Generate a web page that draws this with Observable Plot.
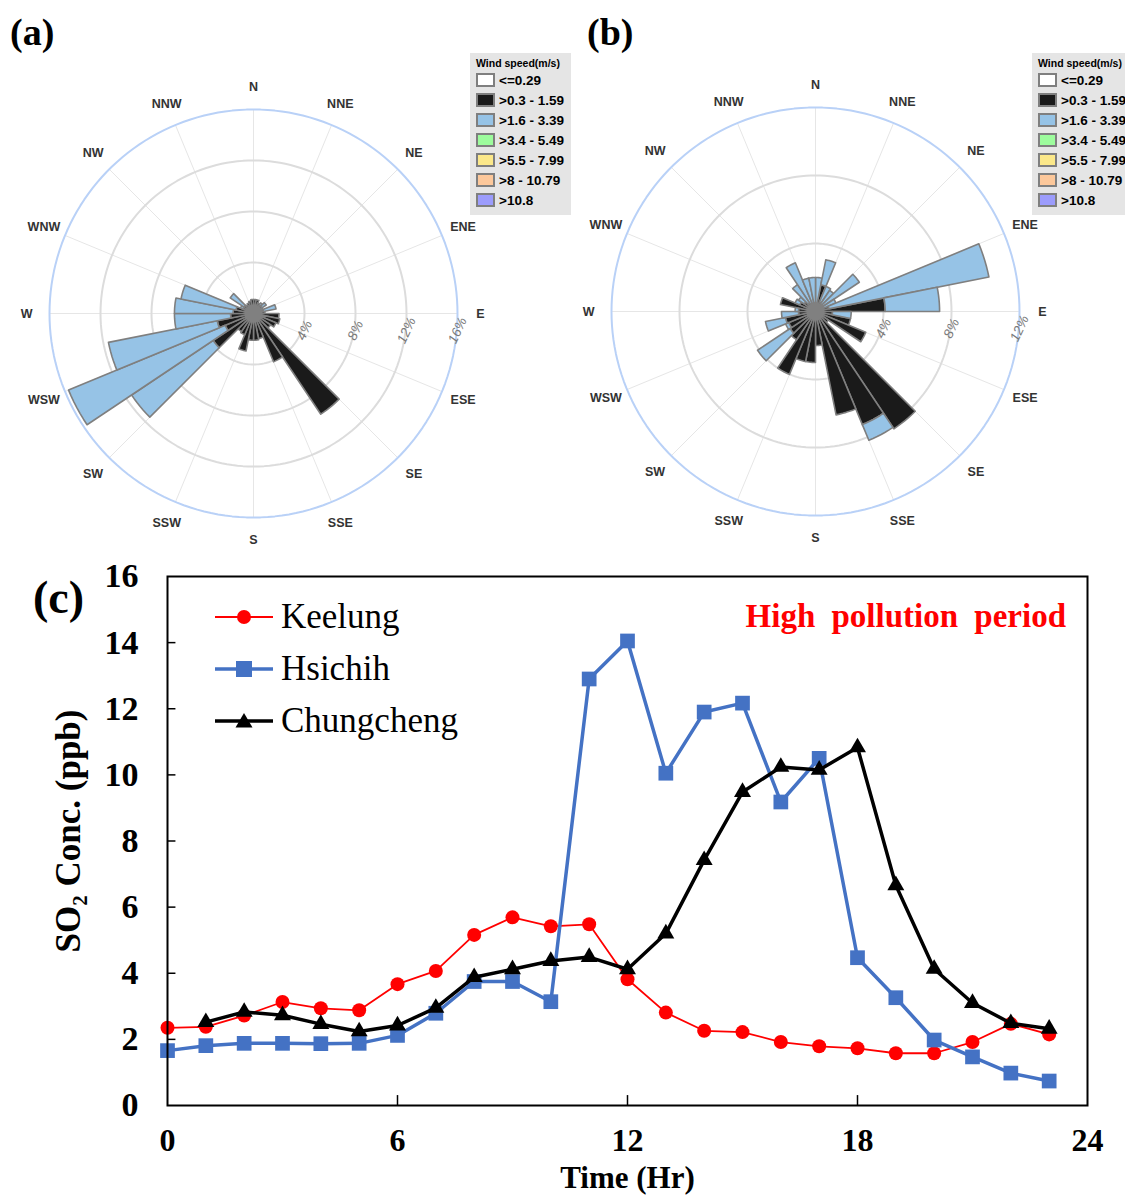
<!DOCTYPE html>
<html><head><meta charset="utf-8">
<script src="https://cdn.jsdelivr.net/npm/d3@7"></script>
<script src="https://cdn.jsdelivr.net/npm/@observablehq/plot@0.6"></script>
<style>
body{margin:0;background:#fff;width:1125px;height:1196px;overflow:hidden;position:relative;font-family:"Liberation Sans",Arial,sans-serif}
.abs{position:absolute}
.panel{font:bold 38px "Liberation Serif","Times New Roman",serif;line-height:40px}
.wsleg{background:#e5e5e5;padding:3px 0 0 6px;box-sizing:border-box;font-family:"Liberation Sans",Arial,sans-serif;color:#000;white-space:nowrap}
.wsleg .t{font-weight:bold;font-size:10.5px;height:14px;line-height:14px;margin-bottom:0px}
.wsleg .r{display:flex;align-items:center;height:20px}
.wsleg .sw{width:15px;height:10px;border:2px solid #7f7f7f;margin-right:4px}
.wsleg .l{font-weight:bold;font-size:13.5px}
.lg{display:flex;align-items:center;height:40px;font:35px "Liberation Serif","Times New Roman",serif}
</style></head><body>
<script>
// ---------------- data ----------------
const directions = ["N","NNE","NE","ENE","E","ESE","SE","SSE","S","SSW","SW","WSW","W","WNW","NW","NNW"];
const speedBands = ["<=0.29", ">0.3 - 1.59", ">1.6 - 3.39", ">3.4 - 5.49", ">5.5 - 7.99", ">8 - 10.79", ">10.8"];
// 32 direction sectors (11.25 deg each, starting at north, clockwise), frequency in %
const roseA_slow = [1.1,1.1,0.9,0.8,0.8,0.6,0.8,0.9,2.0,2.1,1.9,1.6,9.5,4.1,2.0,2.1,2.1,3.0,1.8,1.7,3.8,2.4,2.9,1.8,1.6,1.4,0.9,0.9,0.8,0.9,1.0,1.1]; // >0.3 - 1.59
const roseA_mid  = [0,0,0,0.2,0.4,0.2,1.0,0,0,0,0,0,0,0,0,0,0,0,0,0,7.7,13.3,8.7,4.4,4.6,4.4,0.2,1.3,0,0,0,0];        // >1.6 - 3.39
const roseB_slow = [0.5,1.6,0.6,0.5,0.5,0.5,0.8,4.1,1.0,2.1,3.2,0.9,8.3,7.2,6.2,2.0,3.0,3.0,4.0,2.0,1.8,1.7,1.8,1.0,1.0,2.1,1.0,0.8,0.6,0.5,0.5,0.5];
const roseB_mid  = [1.5,1.5,1.0,1.0,2.6,0.8,9.6,3.2,1.1,0,0,0,0,1.0,0,0,0,0,0,0,2.3,0.2,1.2,1.0,0.2,0,0.3,0.4,1.3,2.6,1.5,1.5];
const roseA_rings = [4, 8, 12, 16];
const roseB_rings = [4, 8, 12];

const hours = [0,1,2,3,4,5,6,7,8,9,10,11,12,13,14,15,16,17,18,19,20,21,22,23];
const keelung    = [2.35,2.38,2.72,3.13,2.94,2.88,3.67,4.07,5.16,5.69,5.42,5.48,3.82,2.81,2.26,2.22,1.92,1.79,1.73,1.58,1.58,1.92,2.47,2.15];
const hsichih    = [1.66,1.81,1.88,1.88,1.87,1.88,2.12,2.79,3.75,3.75,3.14,12.9,14.05,10.05,11.9,12.17,9.18,10.5,4.47,3.26,1.98,1.47,0.98,0.74];
const chungcheng = [null,2.52,2.83,2.73,2.46,2.24,2.42,2.95,3.88,4.12,4.37,4.49,4.12,5.2,7.42,9.48,10.24,10.15,10.83,6.66,4.13,3.1,2.49,2.32];
const xTicks = [0, 6, 12, 18, 24];
const yTicks = [0, 2, 4, 6, 8, 10, 12, 14, 16];
const seriesNames = ["Keelung", "Hsichih", "Chungcheng"];

// ---------------- styles ----------------
const bandColors = ["#ffffff", "#1a1a1a", "#96c3e6", "#9dfc9d", "#fbe88a", "#fcc89b", "#9c9cfc"];
const rad = Math.PI / 180;

function windRose(slow, mid, rings, W, H, cx, cy, pxPerPct) {
  const n = slow.length, step = 360 / n;
  const outer = rings[rings.length - 1];
  const arc = (r, a0, a1, m) => d3.range(m + 1).map(i => a0 + (a1 - a0) * i / m)
      .map(a => ({x: r * Math.sin(a * rad), y: r * Math.cos(a * rad)}));
  const blackPolys = [], bluePolys = [];
  slow.forEach((s, i) => {
    const a0 = i * step, a1 = (i + 1) * step;
    if (s > 0) {
      [{x: 0, y: 0}, ...arc(s, a0, a1, 6)].forEach(p => blackPolys.push({id: i, ...p}));
    }
    if (mid[i] > 0) {
      const t = s + mid[i];
      [...arc(t, a0, a1, 6), ...arc(s, a1, a0, 6)].forEach(p => bluePolys.push({id: i, ...p}));
    }
  });
  const circlePts = rings.flatMap(r => arc(r, 0, 360, 180).map(p => ({ring: r, ...p})));
  const spokes = directions.map((d, i) => ({a: i * 22.5}));
  const labR = outer * 1.112;
  return Plot.plot({
    width: W, height: H, margin: 0,
    x: {domain: [-cx / pxPerPct, (W - cx) / pxPerPct], axis: null},
    y: {domain: [-(H - cy) / pxPerPct, cy / pxPerPct], axis: null},
    style: {background: "transparent", overflow: "visible"},
    marks: [
      Plot.link(spokes, {x1: 0, y1: 0, x2: d => outer * Math.sin(d.a * rad), y2: d => outer * Math.cos(d.a * rad), stroke: "#e6e6e6", strokeWidth: 1}),
      Plot.line(circlePts.filter(p => p.ring !== outer), {x: "x", y: "y", z: "ring", stroke: "#dcdcdc", strokeWidth: 2}),
      Plot.line(circlePts.filter(p => p.ring === outer), {x: "x", y: "y", z: "ring", stroke: "#b9d1f7", strokeWidth: 2}),
      Plot.line(blackPolys, {x: "x", y: "y", z: "id", fill: bandColors[1], stroke: "#7f7f7f", strokeWidth: 1.6, curve: "linear-closed"}),
      Plot.line(bluePolys, {x: "x", y: "y", z: "id", fill: bandColors[2], stroke: "#7f7f7f", strokeWidth: 1.6, curve: "linear-closed"}),
      Plot.dot([0], {x: 0, y: 0, r: 9, fill: "#808080"}),
      Plot.text(directions, {x: (d, i) => labR * Math.sin(i * 22.5 * rad), y: (d, i) => labR * Math.cos(i * 22.5 * rad), text: d => d,
        fontWeight: "bold", fontSize: 12.5, fill: "#333", fontFamily: "Liberation Sans, Arial, sans-serif"}),
      Plot.text(rings, {x: d => d, y: 0, text: d => d + "%", dy: 17, rotate: -65, fontStyle: "italic",
        fontSize: 13.5, fill: "#7a7a7a", fontFamily: "Liberation Sans, Arial, sans-serif"})
    ]
  });
}

function place(el, left, top) {
  const d = document.createElement("div");
  d.className = "abs"; d.style.left = left + "px"; d.style.top = top + "px";
  d.appendChild(el); document.body.appendChild(d); return d;
}
function html(s, left, top, extraClass, style) {
  const d = document.createElement("div");
  d.className = "abs " + (extraClass || ""); d.style.left = left + "px"; d.style.top = top + "px";
  if (style) d.setAttribute("style", d.getAttribute("style") + ";" + style);
  d.innerHTML = s; document.body.appendChild(d); return d;
}
function roseLegend(left, top) {
  let s = `<div class="t">Wind speed(m/s)</div>`;
  speedBands.forEach((b, i) => {
    s += `<div class="r"><div class="sw" style="background:${bandColors[i]}"></div><div class="l">${b.replace("<", "&lt;").replace(">", "&gt;")}</div></div>`;
  });
  html(s, left, top, "wsleg", "width:101px;height:162px");
}

// ---- (a) and (b) wind roses ----
place(windRose(roseA_slow, roseA_mid, roseA_rings, 562, 540, 253, 293, 204 / 16), 0, 20);
place(windRose(roseB_slow, roseB_mid, roseB_rings, 563, 540, 253, 291, 204 / 12), 562, 20);
html("(a)", 10, 12, "panel");
html("(b)", 587, 12, "panel");
roseLegend(470, 53);
roseLegend(1032, 53);

// ---- (c) line chart ----
const rows = hours.map((h, i) => ({h, k: keelung[i], s: hsichih[i], c: chungcheng[i]}));
const chart = Plot.plot({
  width: 1125, height: 646,
  marginLeft: 167, marginRight: 38, marginTop: 26, marginBottom: 91,
  style: {fontFamily: "Liberation Serif, Times New Roman, serif", fontSize: "34px", fontWeight: "bold", color: "#000", background: "transparent", overflow: "visible"},
  x: {domain: [0, 24]},
  y: {domain: [0, 16]},
  marks: [
    Plot.axisX({ticks: xTicks, tickSize: 0, tickPadding: 23, tickFormat: d => d, label: null, fontSize: 32}),
    Plot.axisY({ticks: yTicks, tickSize: 0, tickPadding: 29, tickFormat: d => d, label: null}),
    Plot.ruleY(yTicks.slice(1, -1), {x1: 0, x2: 0.22, stroke: "#000", strokeWidth: 1.5}),
    Plot.ruleX(xTicks.slice(1, -1), {y1: 0, y2: 0.3, stroke: "#000", strokeWidth: 1.5}),
    Plot.line(rows, {x: "h", y: "k", stroke: "#ff0000", strokeWidth: 1.8}),
    Plot.dot(rows, {x: "h", y: "k", fill: "#ff0000", r: 7, symbol: "circle"}),
    Plot.line(rows, {x: "h", y: "s", stroke: "#4472c4", strokeWidth: 3.5}),
    Plot.dot(rows, {x: "h", y: "s", fill: "#4472c4", r: 8.3, symbol: "square"}),
    Plot.line(rows.filter(d => d.c != null), {x: "h", y: "c", stroke: "#000", strokeWidth: 3.5}),
    Plot.dot(rows.filter(d => d.c != null), {x: "h", y: "c", fill: "#000", r: 6.3, symbol: "triangle"}),
    Plot.frame({stroke: "#000", strokeWidth: 2}),
    Plot.text(["Time (Hr)"], {frameAnchor: "bottom", dy: 73, lineAnchor: "middle", fontSize: 31, fontWeight: "bold"}),
    Plot.text(["SO₂ Conc. (ppb)"], {frameAnchor: "left", textAnchor: "middle", dx: -99, dy: -10, rotate: -90, fontSize: 35, fontWeight: "bold"})
  ]
});
place(chart, 0, 550);
html("(c)", 33, 574, "panel", "font-size:46px;line-height:48px");

// legend of line chart
const legStyles = [
  {c: "#ff0000", w: 2, m: `<circle cx="29" cy="12" r="7" fill="#ff0000"/>`},
  {c: "#4472c4", w: 3.5, m: `<rect x="21" y="4" width="16" height="16" fill="#4472c4"/>`},
  {c: "#000", w: 3.5, m: `<path d="M29,4 L37.5,18.5 L20.5,18.5 Z" fill="#000"/>`}
];
seriesNames.forEach((name, i) => {
  const st = legStyles[i];
  html(`<svg width="60" height="24" style="margin-right:6px"><line x1="0" x2="58" y1="12" y2="12" stroke="${st.c}" stroke-width="${st.w}"/>${st.m}</svg><span>${name}</span>`,
    215, 597 + i * 52, "lg");
});
html("High pollution period", 0, 597, "", "left:auto;right:59px;font:bold 33px 'Liberation Serif','Times New Roman',serif;color:#ff0000;word-spacing:8px;line-height:38px");
</script>
</body></html>
